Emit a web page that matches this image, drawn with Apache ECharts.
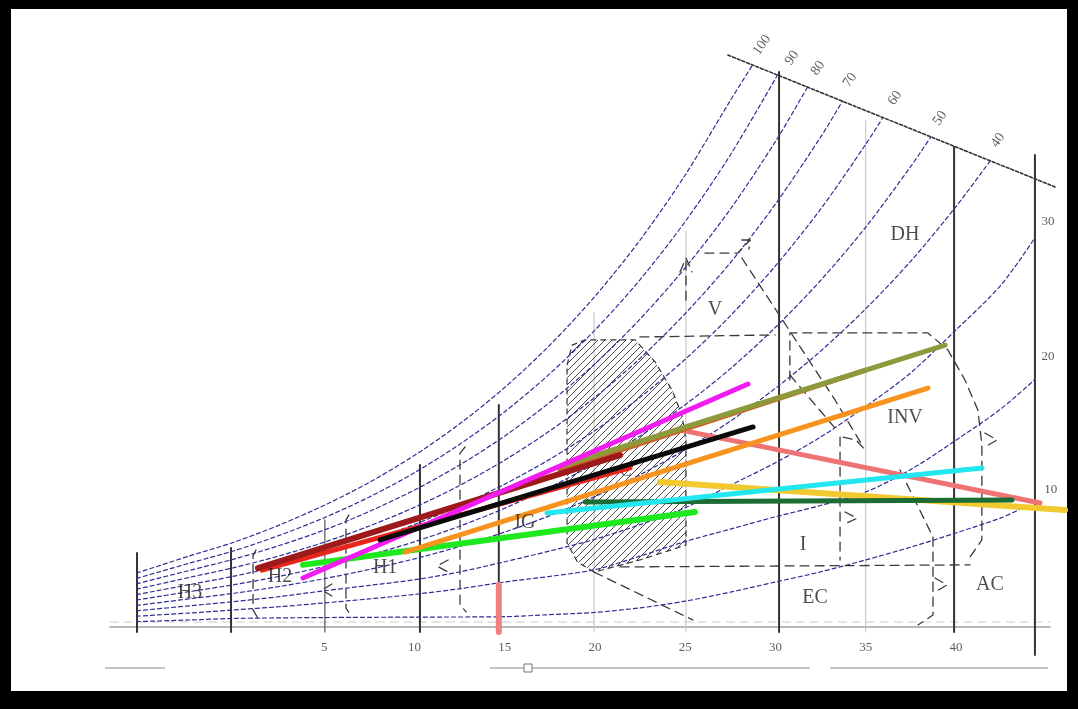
<!DOCTYPE html>
<html>
<head>
<meta charset="utf-8">
<script src="https://cdn.jsdelivr.net/npm/echarts@6/dist/echarts.min.js"></script>
<style>
  html, body { margin: 0; padding: 0; background: #000; }
  #chart { width: 1078px; height: 709px; }
</style>
</head>
<body>
<div id="chart"></div>
<script>
// Dry-bulb temperature (°C) tick labels shown under the chart
const xTickLabels = [5, 10, 15, 20, 25, 30, 35, 40];

// Relative-humidity curves: [dry-bulb °C, humidity ratio g/kg]
const rh100 = [[-5.4,2.40],[-2.5,3.15],[0,3.77],[2.5,4.53],[5,5.41],[7.5,6.43],[10,7.63],[12.5,9.03],[15,10.65],[17.5,12.53],[20,14.70],[22.5,17.20],[25,20.09],[27.5,23.40],[28.75,25.0]];
const rh90 = [[-5.4,2.16],[-2.5,2.83],[0,3.39],[2.5,4.07],[5,4.86],[7.5,5.78],[10,6.86],[12.5,8.12],[15,9.57],[17.5,11.26],[20,13.20],[22.5,15.44],[25,18.02],[27.5,20.98],[30.11,24.53]];
const rh80 = [[-5.4,1.92],[-2.5,2.51],[0,3.02],[2.5,3.62],[5,4.31],[7.5,5.14],[10,6.09],[12.5,7.20],[15,8.49],[17.5,9.99],[20,11.70],[22.5,13.69],[25,15.97],[27.5,18.57],[30,21.58],[31.75,23.96]];
const rh70 = [[-5.4,1.68],[-2.5,2.20],[0,2.64],[2.5,3.16],[5,3.77],[7.5,4.49],[10,5.32],[12.5,6.29],[15,7.42],[17.5,8.72],[20,10.21],[22.5,11.94],[25,13.93],[27.5,16.19],[30,18.80],[32.5,21.77],[33.72,23.38]];
const rh60 = [[-5.4,1.44],[-2.5,1.88],[0,2.26],[2.5,2.71],[5,3.23],[7.5,3.84],[10,4.56],[12.5,5.39],[15,6.35],[17.5,7.46],[20,8.73],[22.5,10.21],[25,11.90],[27.5,13.83],[30,16.05],[32.5,18.57],[35,21.45],[35.95,22.64]];
const rh50 = [[-5.4,1.20],[-2.5,1.57],[0,1.88],[2.5,2.25],[5,2.69],[7.5,3.20],[10,3.79],[12.5,4.48],[15,5.28],[17.5,6.21],[20,7.27],[22.5,8.49],[25,9.88],[27.5,11.48],[30,13.32],[32.5,15.40],[35,17.77],[37.5,20.47],[38.61,21.78]];
const rh40 = [[-5.4,0.96],[-2.5,1.25],[0,1.50],[2.5,1.80],[5,2.15],[7.5,2.56],[10,3.03],[12.5,3.58],[15,4.22],[17.5,4.95],[20,5.80],[22.5,6.77],[25,7.88],[27.5,9.15],[30,10.61],[32.5,12.26],[35,14.14],[37.5,16.26],[40,18.68],[41.9,20.72]];
const rh30 = [[-5.4,0.72],[-2.5,0.94],[0,1.13],[2.5,1.35],[5,1.61],[7.5,1.85],[10,2.10],[12.5,2.45],[15,2.90],[17.5,3.38],[20,3.90],[22.5,4.55],[25,5.30],[27.5,6.30],[30,7.30],[32.5,8.44],[35,9.80],[37.5,11.30],[40,13.20],[42.5,15.20],[44.38,17.30]];
const rh20 = [[-5.4,0.48],[-2.5,0.62],[0,0.76],[2.5,0.90],[5,1.07],[7.5,1.25],[10,1.45],[12.5,1.70],[15,2.00],[17.5,2.25],[20,2.55],[22.5,3.15],[25,3.80],[27.5,4.35],[30,4.90],[32.5,5.40],[35,6.00],[37.5,7.00],[40,8.30],[42.5,9.70],[44.38,11.00]];
const rh10 = [[-5.4,0.24],[-2.5,0.31],[0,0.38],[5,0.42],[10,0.44],[15,0.46],[17.5,0.55],[20,0.65],[22.5,0.85],[25,1.15],[27.5,1.55],[30,2.00],[32.5,2.45],[35,2.98],[37.5,3.55],[40,4.18],[42.5,4.85],[43.6,5.25]];
const rhCurves = [rh100, rh90, rh80, rh70, rh60, rh50, rh40, rh30, rh20, rh10];

// RH scale labels: [°C, g/kg, text]
const rhTopLabels = [[29.26,25.87,'100'],[30.92,25.29,'90'],[32.36,24.84,'80'],[34.13,24.31,'70'],[36.63,23.51,'60'],[39.12,22.62,'50'],[42.33,21.64,'40']];
const rhSideLabels = [[45.1,18.0,'30'],[45.1,12.0,'20'],[45.25,6.09,'10']];

// Line bounding the curves at the top
const topBoundary = [[27.37,25.42],[45.49,19.56]];

// Vertical reference lines: [°C, top g/kg, bottom g/kg]
const darkVerticals = [[-5.38,3.29,-0.22],[-0.17,3.51,-0.22],[10.3,7.2,-0.22],[14.67,9.87,-0.22],[30.2,24.67,-0.22],[39.9,21.33,-0.22],[44.38,20.98,-1.24]];
const thinVerticals = [[5.03,4.76,-0.22]];
const lightVerticals = [[19.95,13.96,-0.22],[25.04,17.6,-0.22],[35.0,22.5,-0.22]];

// Comfort zone outline (hatched)
const comfortZone = [[18.45,11.64],[18.73,12.53],[19.45,12.76],[22.22,12.76],[23.33,11.78],[24.27,10.53],[24.82,9.42],[25.04,8.31],[25.04,3.64],[22.49,2.98],[19.95,2.44],[19.03,2.89],[18.45,3.73]];

// Strategy-zone boundaries (dashed)
const zoneBoundaries = [
  [[22.49,12.89],[29.98,12.98]],
  [[30.8,10.98],[30.8,13.07],[38.45,13.07],[39.56,12.31],[40.5,10.98],[41.22,9.64],[41.44,8.09],[41.44,3.87],[40.67,2.98]],
  [[21.39,2.67],[40.78,2.76]],
  [[28.14,16.4],[33.3,10.09],[34.8,8.09]],
  [[30.8,11.2],[33.3,8.84]],
  [[33.58,8.44],[33.58,2.98]],
  [[33.75,8.44],[34.47,8.31],[35.07,7.78]],
  [[36.9,6.98],[38.73,4.0],[38.73,0.53],[37.9,0.09]],
  [[25.04,14.53],[25.04,16.4]],
  [[24.71,15.78],[25.04,16.4],[25.38,15.78]],
  [[26.09,16.62],[27.92,16.62],[28.59,17.2]],
  [[28.14,17.2],[28.59,17.2],[28.53,16.8]],
  [[19.95,2.44],[25.43,0.31]],
  [[1.21,3.42],[1.05,3.16],[1.05,0.76],[1.38,0.31]],
  [[6.37,4.98],[6.2,4.76],[6.2,0.84],[6.53,0.44]],
  [[12.8,8.0],[12.52,7.73],[12.52,0.98],[12.86,0.67]],
  [[11.86,2.98],[11.24,2.71],[11.86,2.44]],
  [[5.42,1.91],[4.87,1.64],[5.42,1.38]],
  [[41.61,8.62],[42.28,8.31],[41.61,8.0]],
  [[33.86,5.11],[34.53,4.84],[33.86,4.58]],
  [[38.84,2.18],[39.51,1.87],[38.84,1.56]]
];

// Zone names: [°C, g/kg, text]
const zoneLabels = [[-2.44,1.51,'H3'],[2.54,2.22,'H2'],[8.37,2.62,'H1'],[16.12,4.62,'IG'],[26.65,14.09,'V'],[37.18,17.42,'DH'],[37.18,9.29,'INV'],[31.53,3.64,'I'],[32.19,1.29,'EC'],[41.89,1.87,'AC']];
const comfortMark = [[21.72,6.89,'C']];

// Climate lines: [start °C, start g/kg], [end °C, end g/kg]
const climateLines = [
  { name: 'salmon',    color: '#ee7474', width: 5, data: [[24.71,8.76],[44.66,5.51]] },
  { name: 'gold',      color: '#f2c92e', width: 6, data: [[23.6,6.44],[46.05,5.2]] },
  { name: 'darkgreen', color: '#1d6b35', width: 5, data: [[19.45,5.56],[43.11,5.64]] },
  { name: 'cyan',      color: '#22e6f0', width: 5, data: [[17.34,5.07],[41.44,7.07]] },
  { name: 'lime',      color: '#1ee81e', width: 6, data: [[3.82,2.76],[25.54,5.11]] },
  { name: 'orange',    color: '#f7931e', width: 5, data: [[9.47,3.33],[38.45,10.62]] },
  { name: 'red',       color: '#e8251a', width: 5, data: [[1.55,2.53],[21.94,7.07]] },
  { name: 'sienna',    color: '#c8642a', width: 5, data: [[18.06,6.98],[35.0,11.42]] },
  { name: 'olive',     color: '#8c9a3c', width: 5, data: [[18.34,7.2],[39.4,12.53]] },
  { name: 'maroon',    color: '#9e1a1a', width: 6, data: [[1.32,2.62],[21.39,7.64]] },
  { name: 'magenta',   color: '#f21cf2', width: 5, data: [[3.82,2.18],[28.48,10.8]] },
  { name: 'black',     color: '#0a0a0a', width: 5, data: [[8.09,3.87],[28.76,8.89]] },
  { name: 'mark15',    color: '#f08080', width: 6, data: [[14.67,1.87],[14.67,-0.22]] }
];

const baseLine = [[-6.87,0],[45.2,0]];
const faintLine = [[-6.87,0.22],[45.2,0.22]];
const tickLabelLevel = -0.92;

// Diagonal hatch tile for the comfort zone
const hatch = document.createElement('canvas');
hatch.width = 7; hatch.height = 7;
(function () {
  const c = hatch.getContext('2d');
  c.strokeStyle = '#4a4a4a';
  c.lineWidth = 1;
  c.beginPath();
  c.moveTo(0, 7); c.lineTo(7, 0);
  c.moveTo(-1, 1); c.lineTo(1, -1);
  c.moveTo(6, 8); c.lineTo(8, 6);
  c.stroke();
})();

const SERIF = '"Liberation Serif", "DejaVu Serif", serif';

function lineSeries(data, color, width, type, z, smooth) {
  return {
    type: 'line', data: data, showSymbol: false, symbol: 'none', silent: true,
    smooth: smooth || false, animation: false, z: z,
    lineStyle: { color: color, width: width, type: type || 'solid', cap: 'round' }
  };
}

function labelSeries(items, fontSize, rotate, color, z) {
  return {
    type: 'scatter', symbolSize: 0, silent: true, animation: false, z: z,
    data: items.map(function (l) {
      return { value: [l[0], l[1]], label: { formatter: l[2] } };
    }),
    label: {
      show: true, position: 'inside', rotate: rotate || 0,
      fontFamily: SERIF, fontSize: fontSize, color: color
    }
  };
}

const series = [];

series.push(lineSeries(baseLine, '#b8b8b8', 2, 'solid', 1));
series.push(lineSeries(faintLine, '#dddddd', 1.5, [8, 6], 1));

lightVerticals.forEach(function (v) {
  series.push(lineSeries([[v[0], v[1]], [v[0], v[2]]], '#c8c8c8', 1.2, 'solid', 2));
});
thinVerticals.forEach(function (v) {
  series.push(lineSeries([[v[0], v[1]], [v[0], v[2]]], '#555555', 1.2, 'solid', 2));
});
darkVerticals.forEach(function (v) {
  series.push(lineSeries([[v[0], v[1]], [v[0], v[2]]], '#333333', 2, 'solid', 3));
});

// Comfort zone with hatch fill
series.push({
  type: 'custom', silent: true, animation: false, z: 3,
  data: [[comfortZone[0][0], comfortZone[0][1]]],
  renderItem: function (params, api) {
    const pts = comfortZone.map(function (p) { return api.coord(p); });
    return {
      type: 'polygon',
      shape: { points: pts },
      style: {
        fill: { type: 'pattern', image: hatch, repeat: 'repeat' },
        stroke: '#333333', lineWidth: 1.2, lineDash: [6, 4]
      }
    };
  }
});

rhCurves.forEach(function (c) {
  series.push(lineSeries(c, '#2e2e96', 1.2, [4, 3], 4, 0.3));
});
series.push(lineSeries(topBoundary, '#333333', 1.6, [3, 2], 4));

zoneBoundaries.forEach(function (b) {
  series.push(lineSeries(b, '#3a3a3a', 1.3, [9, 6], 5));
});

series.push(labelSeries(comfortMark, 17, 0, '#333', 6));
series.push(labelSeries(zoneLabels, 20, 0, '#1e1e1e', 20));
series.push(labelSeries(rhTopLabels, 14, 55, '#333', 20));
series.push(labelSeries(rhSideLabels, 13, 0, '#333', 20));
series.push(labelSeries(xTickLabels.map(function (t) { return [t, tickLabelLevel, String(t)]; }), 13, 0, '#333', 20));

climateLines.forEach(function (l, i) {
  series.push(lineSeries(l.data, l.color, l.width, 'solid', 10 + i));
});

const chart = echarts.init(document.getElementById('chart'), null, { renderer: 'canvas' });
chart.setOption({
  backgroundColor: '#000000',
  animation: false,
  grid: { left: 98.76, right: 4.81, top: 19.5, bottom: 14.5, containLabel: false },
  xAxis: {
    type: 'value', min: -7.5, max: 46.5, interval: 2.5,
    axisLine: { show: false },
    axisTick: { show: false },
    splitLine: { show: false },
    axisLabel: { show: false }
  },
  yAxis: {
    type: 'value', min: -3, max: 27, show: false,
    splitLine: { show: false }
  },
  graphic: [
    { type: 'rect', z: -10, shape: { x: 11, y: 9, width: 1056, height: 682 }, style: { fill: '#ffffff' } },
    { type: 'line', z: 100, shape: { x1: 105, y1: 668, x2: 165, y2: 668 }, style: { stroke: '#8a8a8a', lineWidth: 1 } },
    { type: 'line', z: 100, shape: { x1: 490, y1: 668, x2: 810, y2: 668 }, style: { stroke: '#8a8a8a', lineWidth: 1 } },
    { type: 'line', z: 100, shape: { x1: 830, y1: 668, x2: 1048, y2: 668 }, style: { stroke: '#8a8a8a', lineWidth: 1 } },
    { type: 'rect', z: 101, shape: { x: 524, y: 664, width: 8, height: 8 }, style: { fill: '#ffffff', stroke: '#777777', lineWidth: 1 } }
  ],
  series: series
});
</script>
</body>
</html>
